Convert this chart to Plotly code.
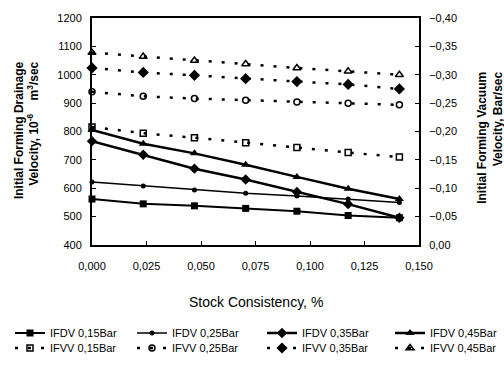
import plotly.graph_objects as go

# ---- data ----
consistency = [0.0, 0.0235, 0.047, 0.0705, 0.094, 0.1175, 0.141]

ifdv_015 = [562, 545, 538, 529, 519, 504, 496]
ifdv_025 = [622, 608, 594, 582, 573, 562, 550]
ifdv_035 = [766, 718, 669, 631, 587, 544, 496]
ifdv_045 = [805, 757, 723, 683, 640, 598, 562]

ifvv_015 = [-0.208, -0.197, -0.189, -0.180, -0.172, -0.163, -0.155]
ifvv_025 = [-0.270, -0.262, -0.258, -0.255, -0.252, -0.250, -0.247]
ifvv_035 = [-0.312, -0.304, -0.299, -0.293, -0.288, -0.283, -0.275]
ifvv_045 = [-0.339, -0.332, -0.325, -0.319, -0.312, -0.306, -0.300]

x_ticks = [0.0, 0.025, 0.05, 0.075, 0.1, 0.125, 0.15]
y_left_ticks = [400, 500, 600, 700, 800, 900, 1000, 1100, 1200]
y_right_ticks = [0.0, -0.05, -0.10, -0.15, -0.20, -0.25, -0.30, -0.35, -0.40]

names_dv = ["IFDV 0,15Bar", "IFDV 0,25Bar", "IFDV 0,35Bar", "IFDV 0,45Bar"]
names_vv = ["IFVV 0,15Bar", "IFVV 0,25Bar", "IFVV 0,35Bar", "IFVV 0,45Bar"]

FONT = "Liberation Sans, Arial, sans-serif"
W, H = 504, 368
L, R, T, B = 92, 85, 13, 123
PW, PH = W - L - R, H - T - B

# legend slot positions (container px): column x, row y
leg_cols = [10, 132, 262, 390]
leg_rows = [333, 348]

fig = go.Figure()
legend_layout = {}

def legend_key(i):
    return "legend" if i == 0 else f"legend{i + 1}"

dv_series = [ifdv_015, ifdv_025, ifdv_035, ifdv_045]
dv_sym = ["square", "circle", "diamond", "triangle-up"]
dv_size = [7, 5, 8, 8]
dv_width = [2, 1.5, 2.5, 2.5]
for i, (name, ys, sym, sz, lw) in enumerate(zip(names_dv, dv_series, dv_sym, dv_size, dv_width)):
    fig.add_trace(go.Scatter(
        x=consistency, y=ys, name=name, mode="lines+markers", yaxis="y",
        line=dict(color="black", width=lw),
        marker=dict(symbol=sym, size=sz, color="black"),
        cliponaxis=False, legend=legend_key(i)))

vv_series = [ifvv_015, ifvv_025, ifvv_035, ifvv_045]
vv_sym = ["square-open", "circle-open", "diamond", "triangle-up-open"]
vv_size = [6, 6, 7, 7]
for i, (name, ys, sym, sz) in enumerate(zip(names_vv, vv_series, vv_sym, vv_size)):
    fig.add_trace(go.Scatter(
        x=consistency, y=ys, name=name, mode="lines+markers", yaxis="y2",
        line=dict(color="black", width=2.5, dash="3px,10px"),
        marker=dict(symbol=sym, size=sz, color="black", line=dict(color="black", width=1.5)),
        cliponaxis=False, legend=legend_key(i + 4)))

for k in range(8):
    row, col = divmod(k, 4)
    legend_layout[legend_key(k)] = dict(
        orientation="h", xref="container", yref="container",
        x=leg_cols[col] / W, y=1 - leg_rows[row] / H,
        xanchor="left", yanchor="middle",
        font=dict(family=FONT, size=11, color="black"), bgcolor="rgba(0,0,0,0)",
        itemwidth=30)

axis_common = dict(showgrid=False, zeroline=False, showline=True, linecolor="black",
                   linewidth=2, ticks="inside", ticklen=4, tickcolor="black",
                   tickfont=dict(family=FONT, size=11, color="black"))

fig.update_layout(
    width=W, height=H, margin=dict(l=L, r=R, t=T, b=B),
    paper_bgcolor="white", plot_bgcolor="white",
    separators=",.",
    xaxis=dict(range=[0, 0.15], tickvals=x_ticks, tickformat=".3f", mirror=True,
               ticklabelstandoff=10, **axis_common),
    yaxis=dict(range=[400, 1200], tickvals=y_left_ticks, ticklabelstandoff=6, **axis_common),
    yaxis2=dict(range=[0, -0.4], tickvals=y_right_ticks, tickformat=".2f", overlaying="y",
                side="right", ticklabelstandoff=6, **axis_common),
    showlegend=True,
    **legend_layout,
)

def px2paper_x(px):
    return (px - L) / PW

def px2paper_y(py):
    return (T + PH - py) / PH

title_font = dict(family=FONT, size=12, color="black")
fig.add_annotation(
    text="<b>Initial Forming Drainage<br>Velocity, 10<sup>-6</sup>\u00a0\u00a0\u00a0\u00a0m<sup>3</sup>/sec</b>",
    xref="paper", yref="paper", x=px2paper_x(27), y=px2paper_y(55),
    xanchor="center", yanchor="top", textangle=-90, align="right",
    showarrow=False, font=title_font)
fig.add_annotation(
    text="<b>Initial Forming Vacuum<br>Velocity, Bar/sec</b>",
    xref="paper", yref="paper", x=px2paper_x(490), y=px2paper_y(66),
    xanchor="center", yanchor="top", textangle=-90, align="right",
    showarrow=False, font=title_font)
fig.add_annotation(
    text="Stock Consistency, %",
    xref="paper", yref="paper", x=0.5, y=px2paper_y(303),
    xanchor="center", yanchor="middle", showarrow=False,
    font=dict(family=FONT, size=14, color="black"))

fig.write_html("out.html")
